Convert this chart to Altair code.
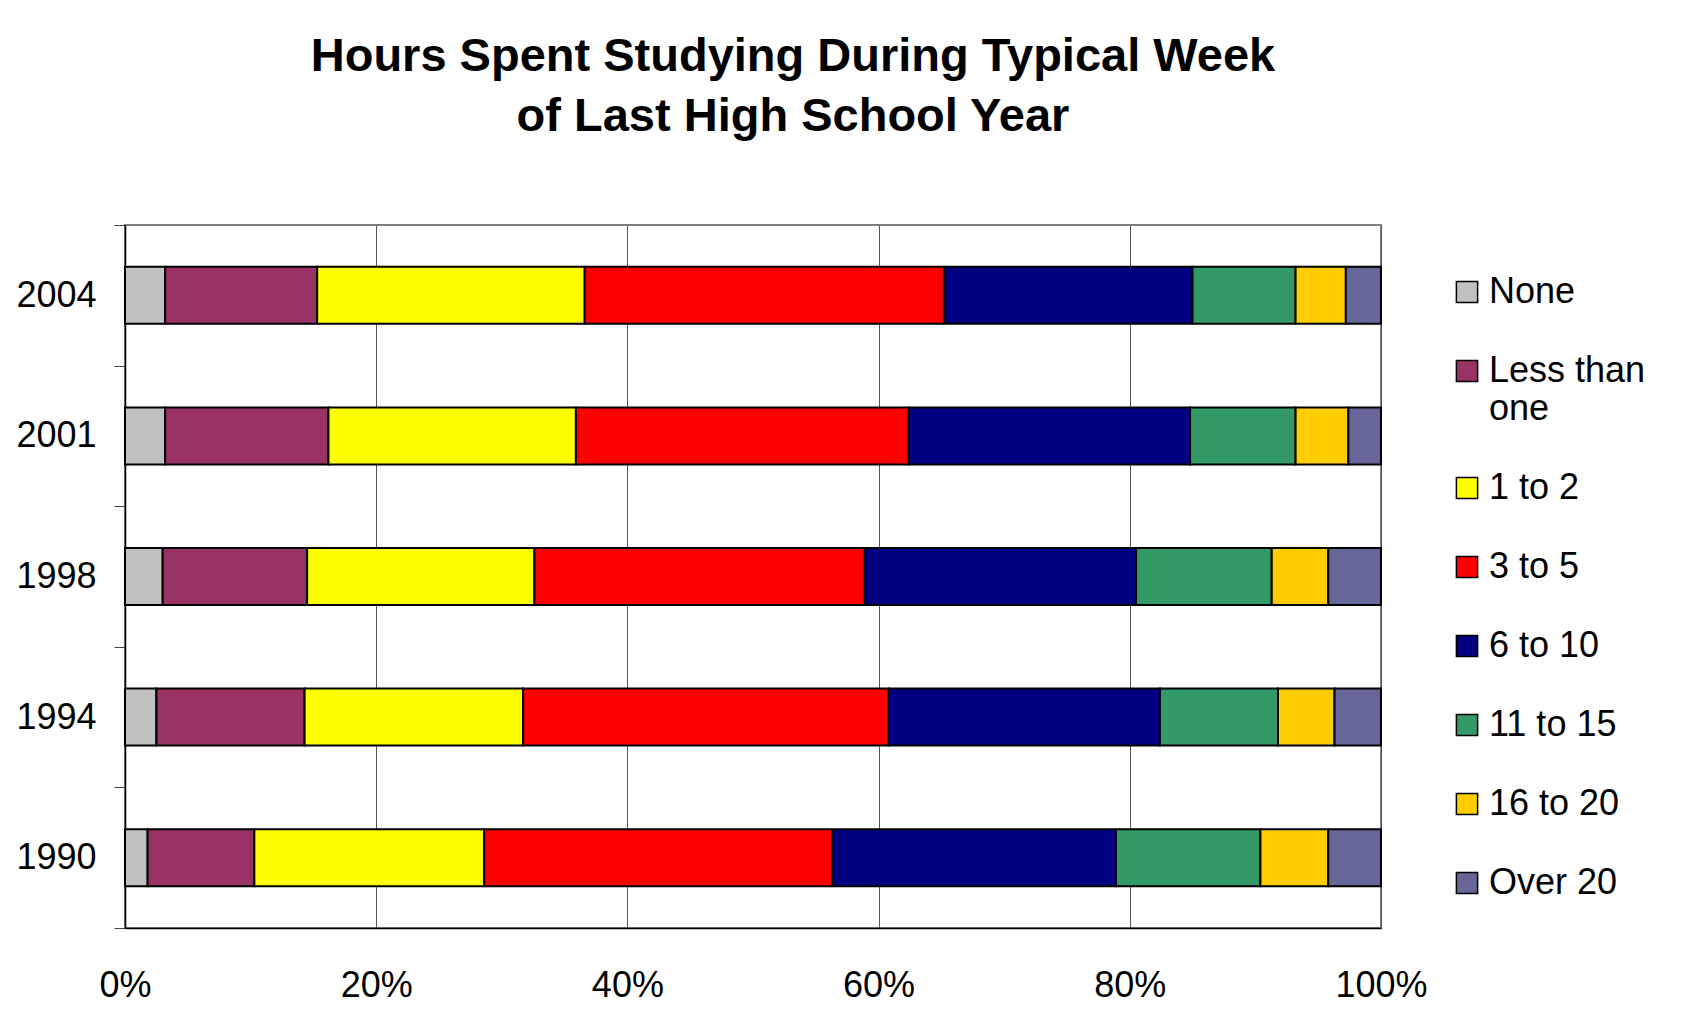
import altair as alt
import pandas as pd

years = ["2004", "2001", "1998", "1994", "1990"]
categories = ["None", "Less than one", "1 to 2", "3 to 5", "6 to 10",
              "11 to 15", "16 to 20", "Over 20"]
colors = ["#C0C0C0", "#993366", "#FFFF00", "#FF0000", "#000080",
          "#339966", "#FFCC00", "#666699"]

v2004 = [3.2, 12.1, 21.3, 28.6, 19.8, 8.2, 4.0, 2.8]
v2001 = [3.2, 13.0, 19.7, 26.5, 22.4, 8.4, 4.2, 2.6]
v1998 = [3.0, 11.5, 18.1, 26.3, 21.6, 10.8, 4.5, 4.2]
v1994 = [2.5, 11.8, 17.4, 29.1, 21.6, 9.4, 4.5, 3.7]
v1990 = [1.8, 8.5, 18.3, 27.7, 22.6, 11.5, 5.4, 4.2]

series = {"2004": v2004, "2001": v2001, "1998": v1998, "1994": v1994, "1990": v1990}
rows = []
for y in years:
    for i, (c, v) in enumerate(zip(categories, series[y])):
        rows.append({"Year": y, "Hours": c, "order": i, "pct": v})
df = pd.DataFrame(rows)

FONT = "Liberation Sans"

chart = alt.Chart(df).mark_bar(stroke="black", strokeWidth=2, size=57).encode(
    y=alt.Y("Year:N", sort=years,
            scale=alt.Scale(paddingInner=0, paddingOuter=0),
            axis=alt.Axis(title=None, labelFontSize=36, labelFont=FONT,
                          labelColor="black", labelPadding=18, tickBand="extent",
                          tickSize=11, tickColor="#444", domainColor="black",
                          domainWidth=1.5, grid=False)),
    x=alt.X("pct:Q", stack="normalize",
            scale=alt.Scale(domain=[0, 1]),
            axis=alt.Axis(title=None, format=".0%", values=[0, 0.2, 0.4, 0.6, 0.8, 1.0],
                          labelFontSize=36, labelFont=FONT, labelColor="black",
                          labelPadding=40, labelFlush=False, ticks=False, grid=True,
                          gridColor="#555", gridWidth=1, domainColor="black",
                          domainWidth=1.5)),
    color=alt.Color("Hours:N", sort=categories,
                    scale=alt.Scale(domain=categories, range=colors),
                    legend=alt.Legend(title=None, orient="none", legendX=1324, legendY=49,
                                      labelFontSize=36, labelFont=FONT, labelColor="black",
                                      symbolType="square", symbolSize=450,
                                      symbolStrokeColor="black", symbolStrokeWidth=1.5,
                                      labelOffset=4, rowPadding=43,
                                      labelExpr="datum.label == 'Less than one' ? ['Less than', 'one'] : datum.label")),
    order=alt.Order("order:Q"),
).properties(
    width=1256, height=703,
    title=alt.Title(["Hours Spent Studying During Typical Week", "of Last High School Year"],
                    font=FONT, fontSize=47, fontWeight="bold", color="black",
                    lineHeight=60, anchor="middle", dx=40, offset=66),
    autosize=alt.AutoSizeParams(type="none"),
    padding={"left": 117, "top": 217, "right": 309, "bottom": 81},
).configure_view(stroke="#808080", strokeWidth=2)

chart.save("out.html", embed_options={"renderer": "svg", "actions": False})
